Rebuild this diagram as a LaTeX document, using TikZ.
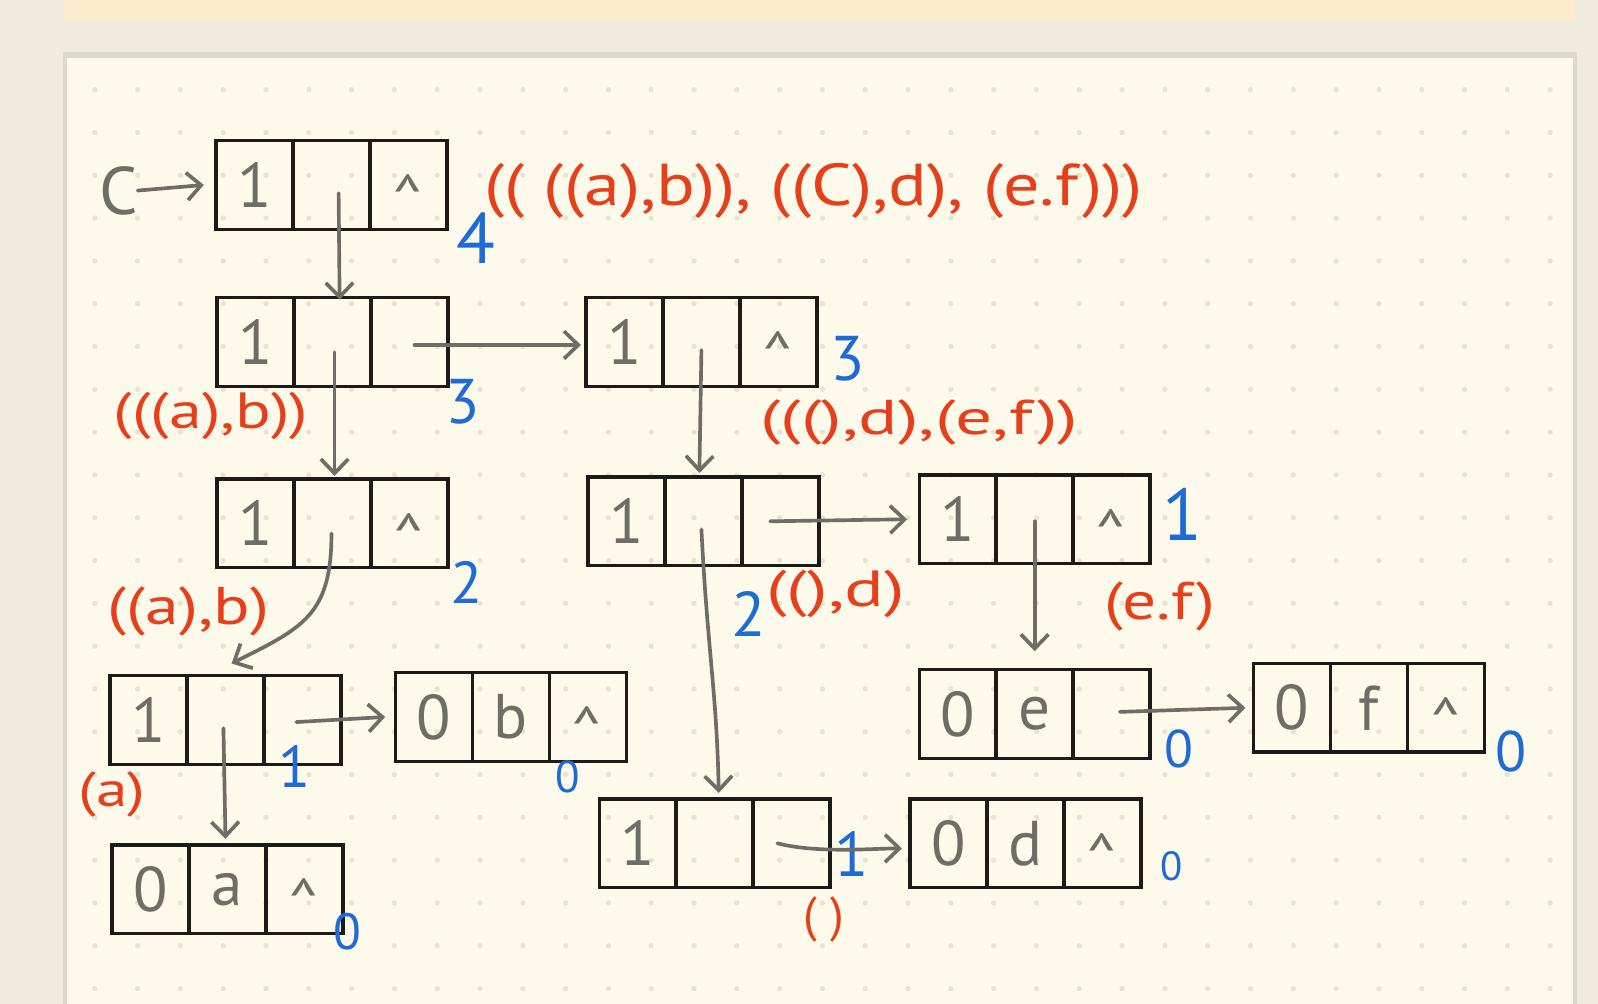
\documentclass[tikz,border=0pt]{standalone}
\usepackage{fontspec}
\usepackage{graphicx}
\setmainfont{PT Sans}
\usetikzlibrary{arrows.meta,calc}
\definecolor{outerbg}{HTML}{EFEBDD}
\definecolor{peach}{HTML}{FDEBCE}
\definecolor{paper}{HTML}{FEFAEB}
\definecolor{paperedge}{HTML}{DDDACB}
\definecolor{dotc}{HTML}{E8E4D3}
\definecolor{ink}{HTML}{1C1B18}
\definecolor{pencil}{HTML}{6E6D66}
\definecolor{redink}{HTML}{E5401B}
\definecolor{blueink}{HTML}{1E6BD6}
\newcommand{\fsz}[1]{\fontsize{#1}{#1}\selectfont}
\newcommand{\wide}[2]{\scalebox{#1}[1]{#2}}
\newcommand{\crt}{\raisebox{-0.55em}[0pt][0pt]{\textasciicircum}}
\newcommand{\glrec}[6]{%
  \node[cell, anchor=north west] (#1a) at (#2,#3) {#4};
  \node[cell, anchor=north west] (#1b) at (#1a.north east) {#5};
  \node[cell, anchor=north west] (#1c) at (#1b.north east) {#6};}
\tikzset{
  cell/.style={draw=ink, line width=3.4pt, minimum width=75.5pt, minimum height=87pt,
    inner sep=0pt, outer sep=0pt, text=pencil, font=\fsz{62}},
  ptr/.style={draw=pencil, line width=3.6pt, line cap=round, line join=round,
    -{Straight Barb[length=14pt,width=27pt]}},
  redlbl/.style={text=redink, inner sep=0pt},
  bluelbl/.style={text=blueink, inner sep=0pt},
}
\begin{document}
\begin{tikzpicture}[x=1pt,y=-1pt]
\useasboundingbox (0,0) rectangle (1568,985);
\fill[outerbg] (0,0) rectangle (1568,985);
\fill[peach] (63,0) rectangle (1545,20);
\fill[paperedge] (62,51) rectangle (1547,985);
\fill[paper] (66,57) rectangle (1543,985);
\foreach \i in {0,...,34}{\foreach \j in {0,...,21}{\fill[dotc] ({93+42*\i},{88+42*\j}) circle (2.6);}}

\glrec{A}{212}{138}{1}{}{\crt}
\glrec{B}{213}{292}{1}{}{}
\glrec{D}{575}{292}{1}{}{\crt}
\glrec{C}{213}{470}{1}{}{\crt}
\glrec{E}{577}{468}{1}{}{}
\glrec{G}{902}{466}{1}{}{\crt}
\glrec{F}{108}{663}{1}{}{}
\glrec{K}{388}{660}{0}{b}{\crt}
\glrec{I}{110}{829}{0}{a}{\crt}
\glrec{J}{588}{784}{1}{}{}
\glrec{L}{893}{784}{0}{d}{\crt}
\glrec{H}{902}{657}{0}{e}{}
\glrec{M}{1230}{651}{0}{f}{\crt}

\node[text=pencil, inner sep=0pt, font=\fsz{66}] (Cname) at (116,187) {C};
\node[redlbl, font=\fsz{58}, anchor=west] (Lall) at (475,187) {\wide{1.22}{(( ((a),b)), ((C),d), (e.f)))}};

\node[bluelbl, font=\fsz{70}] (nA) at (467,234) {4};
\node[bluelbl, font=\fsz{62}] (nB) at (454,394) {3};
\node[bluelbl, font=\fsz{62}] (nD) at (832,352) {3};
\node[bluelbl, font=\fsz{58}] (nC) at (458,572) {2};
\node[bluelbl, font=\fsz{62}] (nE) at (735,602) {2};
\node[bluelbl, font=\fsz{72}] (nG) at (1160,505) {1};
\node[bluelbl, font=\fsz{58}] (nF) at (289,752) {1};
\node[bluelbl, font=\fsz{62}] (nJ) at (836,838) {1};
\node[bluelbl, font=\fsz{44}] (nK) at (557,762) {0};
\node[bluelbl, font=\fsz{50}] (nI) at (341,914) {0};
\node[bluelbl, font=\fsz{40}] (nL) at (1150,850) {0};
\node[bluelbl, font=\fsz{52}] (nH) at (1157,735) {0};
\node[bluelbl, font=\fsz{56}] (nM) at (1483,737) {0};

\node[redlbl, font=\fsz{50}] (lB) at (207,408) {\wide{1.3}{(((a),b))}};
\node[redlbl, font=\fsz{48}] (lD) at (902,415) {\wide{1.5}{(((),d),(e,f))}};
\node[redlbl, font=\fsz{52}] (lC) at (185,600) {\wide{1.28}{((a),b)}};
\node[redlbl, font=\fsz{50}] (lE) at (820,583) {\wide{1.45}{((),d)}};
\node[redlbl, font=\fsz{52}] (lG) at (1138,595) {\wide{1.27}{(e.f)}};
\node[redlbl, font=\fsz{48}] (lF) at (110,780) {\wide{1.3}{(a)}};
\node[redlbl, font=\fsz{48}] (lJ) at (808,902) {( )};

\draw[ptr] (Cname.east) -- ($(Aa.west)+(-12,0)$);
\draw[ptr] ($(Ab.center)+(7,8)$) -- ($(Bb.north)+(7,2)$);
\draw[ptr] ($(Bb.center)+(2,10)$) -- ($(Cb.north)+(2,-3)$);
\draw[ptr] ($(Bc.center)+(5,3)$) -- ($(Da.west)+(-5,3)$);
\draw[ptr] ($(Cb.center)+(-1,10)$) .. controls +(0,80) and +(70,-35) .. ($(Fb.north)+(6,-12)$);
\draw[ptr] ($(Db.center)+(0,8)$) -- ($(Eb.north)+(-4,-4)$);
\draw[ptr] ($(Eb.center)+(-2,8)$) .. controls +(6,120) and +(-2,-100) .. ($(Jb.north)+(4,-6)$);
\draw[ptr] ($(Ec.center)+(-10,0)$) -- ($(Ga.west)+(-12,0)$);
\draw[ptr] ($(Gb.center)+(0,2)$) -- ($(Hb.north)+(0,-18)$);
\draw[ptr] ($(Fb.center)+(-2,8)$) -- ($(Ib.north)+(-2,-6)$);
\draw[ptr] ($(Fc.center)+(-6,2)$) -- ($(Ka.west)+(-10,0)$);
\draw[ptr] ($(Jc.center)+(-14,0)$) .. controls +(40,10) and +(-30,0) .. ($(La.west)+(-8,5)$);
\draw[ptr] ($(Hc.center)+(8,-2)$) -- ($(Ma.west)+(-8,0)$);
\end{tikzpicture}
\end{document}
